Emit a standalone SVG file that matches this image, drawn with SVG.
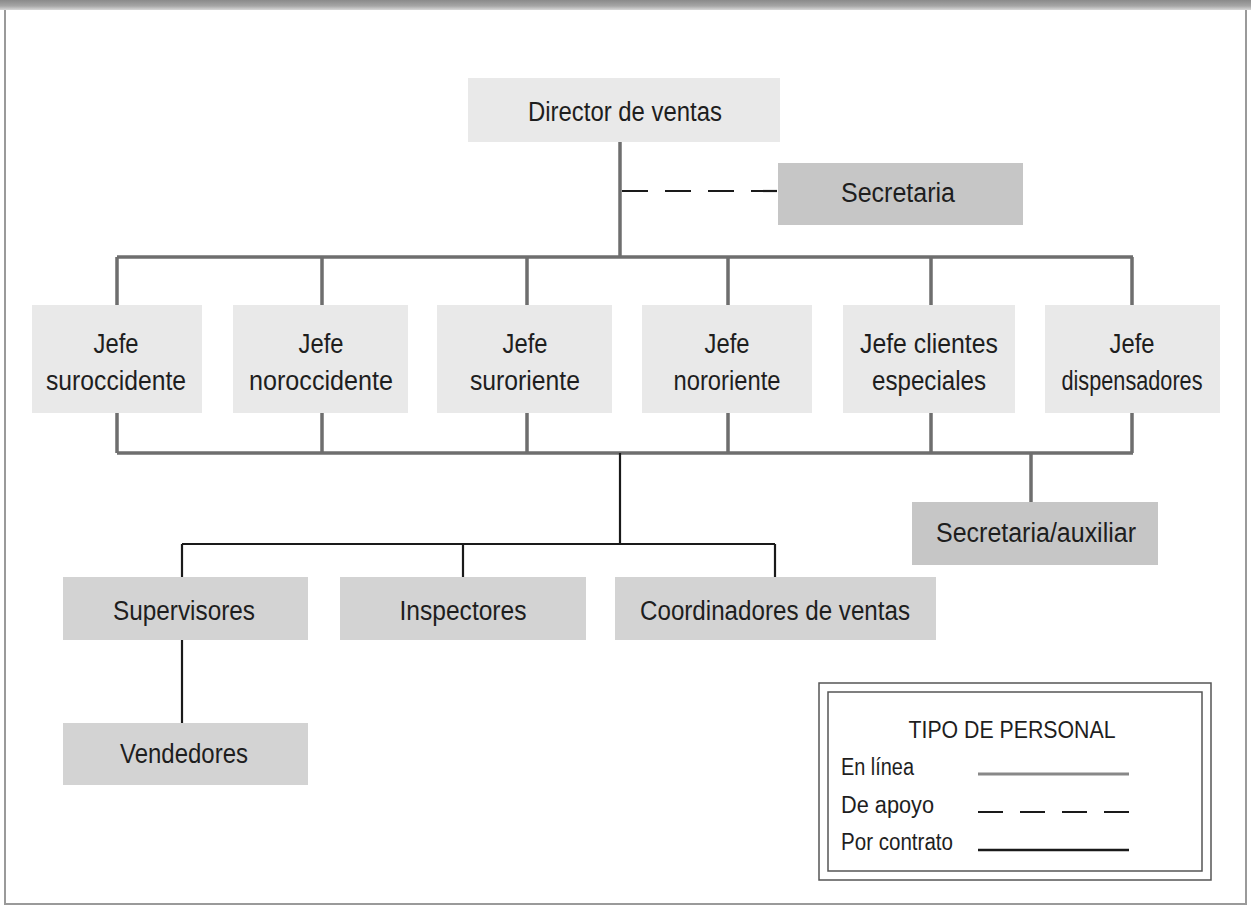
<svg xmlns="http://www.w3.org/2000/svg" width="1251" height="910" viewBox="0 0 1251 910">
<defs>
<linearGradient id="band" x1="0" y1="0" x2="0" y2="1">
<stop offset="0" stop-color="#8a8a8a"/>
<stop offset="0.6" stop-color="#a6a6a6"/>
<stop offset="1" stop-color="#d8d8d8"/>
</linearGradient>
</defs>
<style>
text{font-family:"Liberation Sans",Arial,Helvetica,sans-serif;fill:#1e1e1e;}
.lbl{font-size:27px;text-anchor:middle;}
.leg{font-size:23px;}
.light{fill:#e9e9e9;}
.mid{fill:#d3d3d3;}
.dark{fill:#c6c6c6;}
.line{stroke:#6e6e6e;stroke-width:3.5;fill:none;}
.contract{stroke:#1a1a1a;stroke-width:2.2;fill:none;}
.support{stroke:#1a1a1a;stroke-width:2.2;fill:none;stroke-dasharray:26 17;}
.frame{stroke:#9a9a9a;stroke-width:2;fill:none;}
</style>
<rect x="0" y="0" width="1251" height="910" fill="#ffffff"/>
<rect x="0" y="0" width="1251" height="10" fill="url(#band)"/>
<path class="frame" d="M5,10 V904 H1246 V10"/>

<g id="connectors">
<path class="line" d="M620,142 V257"/>
<path class="support" d="M622,191 H778"/>
<path class="line" d="M117,257 H1133"/>
<path class="line" d="M117,257 V305 M322,257 V305 M527,257 V305 M728,257 V305 M931,257 V305 M1132,257 V305"/>
<path class="line" d="M117,413 V453 M322,413 V453 M527,413 V453 M728,413 V453 M931,413 V453 M1132,413 V453"/>
<path class="line" d="M117,453 H1133"/>
<path class="line" d="M1031,453 V502"/>
<path class="contract" d="M620,453 V544"/>
<path class="contract" d="M182,544 H775"/>
<path class="contract" d="M182,544 V577 M463,544 V577 M775,544 V577"/>
<path class="contract" d="M182,640 V723"/>
</g>

<g id="director">
<rect class="light" x="468" y="78" width="312" height="64"/>
<text class="lbl" x="625" y="121" textLength="194" lengthAdjust="spacingAndGlyphs">Director de ventas</text>
</g>
<g id="secretaria">
<rect class="dark" x="778" y="163" width="245" height="62"/>
<text class="lbl" x="898" y="202" textLength="114" lengthAdjust="spacingAndGlyphs">Secretaria</text>
</g>

<g id="jefe-suroccidente">
<rect class="light" x="32" y="305" width="170" height="108"/>
<text class="lbl" x="116" y="353" textLength="45" lengthAdjust="spacingAndGlyphs">Jefe</text>
<text class="lbl" x="116" y="390" textLength="140" lengthAdjust="spacingAndGlyphs">suroccidente</text>
</g>
<g id="jefe-noroccidente">
<rect class="light" x="233" y="305" width="175" height="108"/>
<text class="lbl" x="321" y="353" textLength="45" lengthAdjust="spacingAndGlyphs">Jefe</text>
<text class="lbl" x="321" y="390" textLength="144" lengthAdjust="spacingAndGlyphs">noroccidente</text>
</g>
<g id="jefe-suroriente">
<rect class="light" x="437" y="305" width="175" height="108"/>
<text class="lbl" x="525" y="353" textLength="45" lengthAdjust="spacingAndGlyphs">Jefe</text>
<text class="lbl" x="525" y="390" textLength="110" lengthAdjust="spacingAndGlyphs">suroriente</text>
</g>
<g id="jefe-nororiente">
<rect class="light" x="642" y="305" width="170" height="108"/>
<text class="lbl" x="727" y="353" textLength="45" lengthAdjust="spacingAndGlyphs">Jefe</text>
<text class="lbl" x="727" y="390" textLength="107" lengthAdjust="spacingAndGlyphs">nororiente</text>
</g>
<g id="jefe-clientes">
<rect class="light" x="843" y="305" width="172" height="108"/>
<text class="lbl" x="929" y="353" textLength="138" lengthAdjust="spacingAndGlyphs">Jefe clientes</text>
<text class="lbl" x="929" y="390" textLength="114" lengthAdjust="spacingAndGlyphs">especiales</text>
</g>
<g id="jefe-dispensadores">
<rect class="light" x="1045" y="305" width="175" height="108"/>
<text class="lbl" x="1132" y="353" textLength="45" lengthAdjust="spacingAndGlyphs">Jefe</text>
<text class="lbl" x="1132" y="390" textLength="141" lengthAdjust="spacingAndGlyphs">dispensadores</text>
</g>

<g id="secretaria-auxiliar">
<rect class="dark" x="912" y="502" width="246" height="63"/>
<text class="lbl" x="1036" y="542" textLength="200" lengthAdjust="spacingAndGlyphs">Secretaria/auxiliar</text>
</g>

<g id="supervisores">
<rect class="mid" x="63" y="577" width="245" height="63"/>
<text class="lbl" x="184" y="620" textLength="142" lengthAdjust="spacingAndGlyphs">Supervisores</text>
</g>
<g id="inspectores">
<rect class="mid" x="340" y="577" width="246" height="63"/>
<text class="lbl" x="463" y="620" textLength="127" lengthAdjust="spacingAndGlyphs">Inspectores</text>
</g>
<g id="coordinadores">
<rect class="mid" x="615" y="577" width="321" height="63"/>
<text class="lbl" x="775" y="620" textLength="270" lengthAdjust="spacingAndGlyphs">Coordinadores de ventas</text>
</g>
<g id="vendedores">
<rect class="mid" x="63" y="723" width="245" height="62"/>
<text class="lbl" x="184" y="763" textLength="128" lengthAdjust="spacingAndGlyphs">Vendedores</text>
</g>

<g id="legend">
<rect x="819" y="683" width="392" height="197" fill="none" stroke="#555" stroke-width="1.5"/>
<rect x="828" y="692" width="374" height="179" fill="none" stroke="#555" stroke-width="1.5"/>
<text class="leg" x="1012" y="738" text-anchor="middle" textLength="207" lengthAdjust="spacingAndGlyphs">TIPO DE PERSONAL</text>
<text class="leg" x="841" y="775" textLength="73" lengthAdjust="spacingAndGlyphs">En línea</text>
<text class="leg" x="841" y="813" textLength="93" lengthAdjust="spacingAndGlyphs">De apoyo</text>
<text class="leg" x="841" y="850" textLength="112" lengthAdjust="spacingAndGlyphs">Por contrato</text>
<path d="M978,774 H1129" stroke="#888" stroke-width="3"/>
<path d="M978,812 H1129" stroke="#1a1a1a" stroke-width="2.2" stroke-dasharray="25 17"/>
<path d="M978,850 H1129" stroke="#1a1a1a" stroke-width="2.5"/>
</g>
</svg>
